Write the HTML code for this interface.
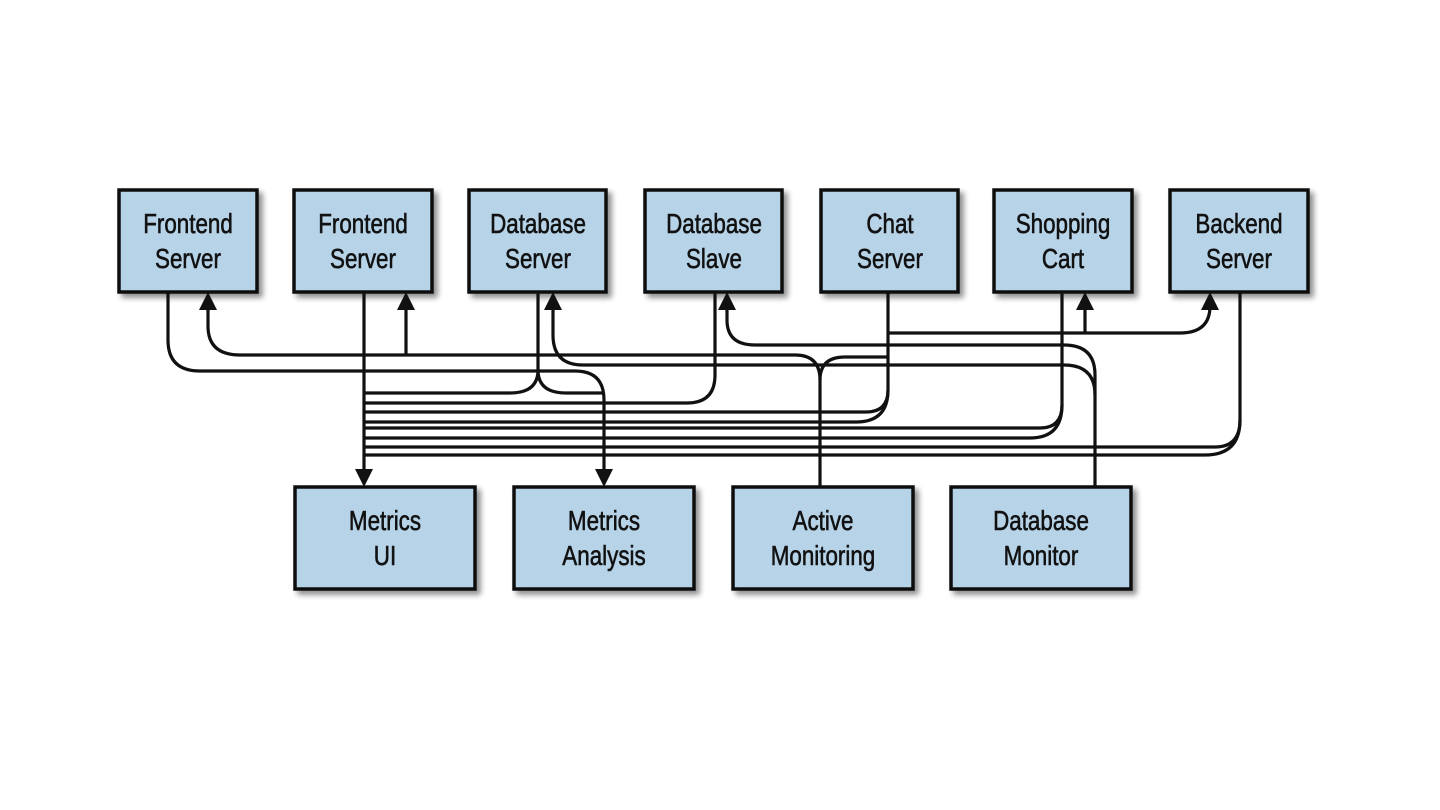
<!DOCTYPE html>
<html><head><meta charset="utf-8"><style>
html,body{margin:0;padding:0;background:#fff;width:1440px;height:810px;overflow:hidden}
svg{display:block}
text{font-family:"Liberation Sans",sans-serif;font-size:28px;fill:#111;stroke:#111;stroke-width:0.6}
</style></head><body>
<svg width="1440" height="810" viewBox="0 0 1440 810" xmlns="http://www.w3.org/2000/svg">
<defs>
<filter id="sh" x="-10%" y="-10%" width="130%" height="130%"><feGaussianBlur in="SourceAlpha" stdDeviation="3"/><feOffset dx="4" dy="4"/><feComponentTransfer><feFuncA type="linear" slope="0.45"/></feComponentTransfer><feMerge><feMergeNode/><feMergeNode in="SourceGraphic"/></feMerge></filter>
</defs>
<g fill="#b7d3e8" stroke="#111" stroke-width="3.5" filter="url(#sh)">
<rect x="119" y="190" width="138" height="102"/>
<rect x="294" y="190" width="138" height="102"/>
<rect x="469" y="190" width="137" height="102"/>
<rect x="645" y="190" width="137" height="102"/>
<rect x="821" y="190" width="137" height="102"/>
<rect x="994" y="190" width="138" height="102"/>
<rect x="1170" y="190" width="138" height="102"/>
<rect x="295" y="487" width="180" height="102"/>
<rect x="514" y="487" width="180" height="102"/>
<rect x="733" y="487" width="180" height="102"/>
<rect x="951" y="487" width="180" height="102"/>
</g>
<g text-anchor="middle">
<g transform="translate(188,0) scale(0.8,1)"><text x="0" y="233">Frontend</text><text x="0" y="268">Server</text></g>
<g transform="translate(363,0) scale(0.8,1)"><text x="0" y="233">Frontend</text><text x="0" y="268">Server</text></g>
<g transform="translate(538,0) scale(0.8,1)"><text x="0" y="233">Database</text><text x="0" y="268">Server</text></g>
<g transform="translate(714,0) scale(0.8,1)"><text x="0" y="233">Database</text><text x="0" y="268">Slave</text></g>
<g transform="translate(890,0) scale(0.8,1)"><text x="0" y="233">Chat</text><text x="0" y="268">Server</text></g>
<g transform="translate(1063,0) scale(0.8,1)"><text x="0" y="233">Shopping</text><text x="0" y="268">Cart</text></g>
<g transform="translate(1239,0) scale(0.8,1)"><text x="0" y="233">Backend</text><text x="0" y="268">Server</text></g>
<g transform="translate(385,0) scale(0.8,1)"><text x="0" y="530">Metrics</text><text x="0" y="565">UI</text></g>
<g transform="translate(604,0) scale(0.8,1)"><text x="0" y="530">Metrics</text><text x="0" y="565">Analysis</text></g>
<g transform="translate(823,0) scale(0.8,1)"><text x="0" y="530">Active</text><text x="0" y="565">Monitoring</text></g>
<g transform="translate(1041,0) scale(0.8,1)"><text x="0" y="530">Database</text><text x="0" y="565">Monitor</text></g>
</g>
<g fill="none" stroke="#111" stroke-width="3.2">
<path d="M168 292 V340 Q168 371 200 371 H575 Q604 371 604 400 V472"/>
<path d="M364 292 V472"/>
<path d="M208 306 V326 Q208 355 240 355 H795 Q820 355 820 380 V487"/>
<path d="M406 306 V355"/>
<path d="M820 380 Q820 357 845 357 H888"/>
<path d="M888 333 H1180 Q1210 333 1210 306"/>
<path d="M1085 306 V333"/>
<path d="M727 306 V320 Q727 345 755 345 H1064 Q1095 345 1095 375 V487"/>
<path d="M553 306 V335 Q553 365 583 365 H1064 Q1095 365 1095 395"/>
<path d="M538 292 V370 Q538 393 510 393 H364"/>
<path d="M538 370 Q538 393 566 393 H604"/>
<path d="M715 292 V375 Q715 403 687 403 H364"/>
<path d="M888 292 V390 Q888 412 866 412 H364"/>
<path d="M888 390 Q888 422 856 422 H364"/>
<path d="M1062 292 V405 Q1062 428 1040 428 H364"/>
<path d="M1062 405 Q1062 438 1030 438 H364"/>
<path d="M1240 292 V420 Q1240 447 1215 447 H364"/>
<path d="M1240 420 Q1240 455 1205 455 H364"/>
</g>
<g fill="#111">
<polygon points="208,292 199,310 217,310"/>
<polygon points="406,292 397,310 415,310"/>
<polygon points="553,292 544,310 562,310"/>
<polygon points="727,292 718,310 736,310"/>
<polygon points="1085,292 1076,310 1094,310"/>
<polygon points="1210,292 1201,310 1219,310"/>
<polygon points="364,487 355,469 373,469"/>
<polygon points="604,487 595,469 613,469"/>
</g>
</svg>
</body></html>
